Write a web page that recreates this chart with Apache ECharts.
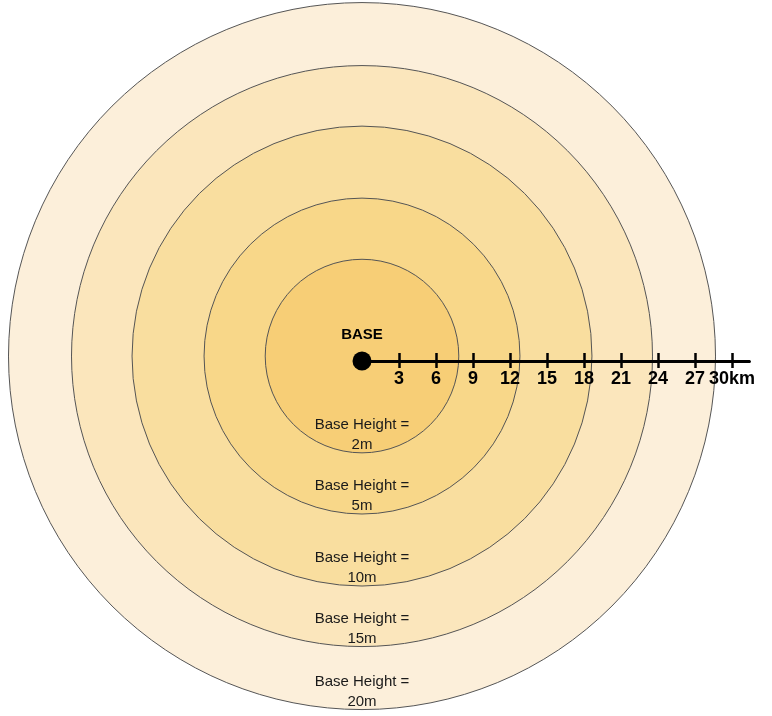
<!DOCTYPE html>
<html>
<head>
<meta charset="utf-8">
<title>Base range rings</title>
<script src="https://cdn.jsdelivr.net/npm/echarts@6/dist/echarts.min.js"></script>
<style>
  html, body { margin: 0; padding: 0; background: #fff; }
  #chart { width: 772px; height: 716px; }
</style>
</head>
<body>
<div id="chart"></div>
<script>
// ring data, outermost first so the inner rings are painted on top
const ringRadiusKm = [28.67, 23.56, 18.65, 12.81, 7.85];
const ringHeights = ['20m', '15m', '10m', '5m', '2m'];
const ringCenterKm = [0, 0.4];
// distance scale
const tickValues = [3, 6, 9, 12, 15, 18, 21, 24, 27, 30];
const axisMaxKm = 31.4;
const baseName = 'BASE';

// styles
const ringColors = ['#fcefda', '#fbe6bc', '#f9de9f', '#f8d789', '#f7ce76'];
const pxPerKm = 12.33;
const origin = [362, 361]; // pixel position of the base
const W = 772, H = 716;

const chart = echarts.init(document.getElementById('chart'));

const option = {
  animation: false,
  grid: [
    { left: 0, top: 0, width: W, height: H },
    { left: origin[0], top: origin[1], width: axisMaxKm * pxPerKm, height: 0 }
  ],
  xAxis: [
    {
      gridIndex: 0, type: 'value', show: false,
      min: -origin[0] / pxPerKm, max: (W - origin[0]) / pxPerKm
    },
    {
      gridIndex: 1, type: 'value', position: 'bottom', z: 10,
      min: 0, max: axisMaxKm,
      axisLine: { onZero: false, lineStyle: { color: '#000', width: 3 } },
      axisTick: { customValues: tickValues, length: 7, lineStyle: { color: '#000', width: 2.5 } },
      axisLabel: {
        customValues: tickValues,
        margin: 9,
        color: '#000',
        fontFamily: 'Liberation Sans',
        fontWeight: 'bold',
        fontSize: 18,
        formatter: v => v === tickValues[tickValues.length - 1] ? v + 'km' : String(v)
      },
      splitLine: { show: false }
    },
    {
      gridIndex: 1, type: 'value', position: 'top', z: 10,
      min: 0, max: axisMaxKm,
      axisLine: { onZero: false, lineStyle: { color: '#000', width: 3 } },
      axisTick: { customValues: tickValues, length: 8, lineStyle: { color: '#000', width: 2.5 } },
      axisLabel: { show: false },
      splitLine: { show: false }
    }
  ],
  yAxis: [
    {
      gridIndex: 0, type: 'value', show: false,
      min: -(H - origin[1]) / pxPerKm, max: origin[1] / pxPerKm
    },
    { gridIndex: 1, type: 'value', show: false, min: 0, max: 1 }
  ],
  series: [
    {
      type: 'custom',
      xAxisIndex: 0, yAxisIndex: 0,
      z: 1,
      clip: false,
      silent: true,
      data: ringRadiusKm.map((r, i) => [ringCenterKm[0], ringCenterKm[1], r, i]),
      renderItem: function (params, api) {
        const c = api.coord([api.value(0), api.value(1)]);
        const r = api.size([api.value(2), 0])[0];
        const i = api.value(3);
        return {
          type: 'group',
          children: [
            {
              type: 'circle',
              shape: { cx: c[0], cy: c[1], r: r },
              style: { fill: ringColors[i], stroke: '#555', lineWidth: 1 }
            },
            {
              type: 'text',
              style: {
                text: 'Base Height =\n' + ringHeights[i],
                x: c[0],
                y: c[1] + r - 18,
                align: 'center',
                verticalAlign: 'middle',
                fontFamily: 'Liberation Sans',
                fontSize: 15,
                lineHeight: 20,
                fill: '#1a1a1a'
              }
            }
          ]
        };
      }
    },
    {
      type: 'scatter',
      xAxisIndex: 0, yAxisIndex: 0,
      z: 20,
      symbol: 'circle',
      symbolSize: 19,
      itemStyle: { color: '#000', opacity: 1 },
      label: {
        show: true,
        position: 'top',
        distance: 9,
        formatter: baseName,
        color: '#000',
        fontFamily: 'Liberation Sans',
        fontWeight: 'bold',
        fontSize: 15
      },
      data: [[0, 0]]
    }
  ]
};

chart.setOption(option);
</script>
</body>
</html>
